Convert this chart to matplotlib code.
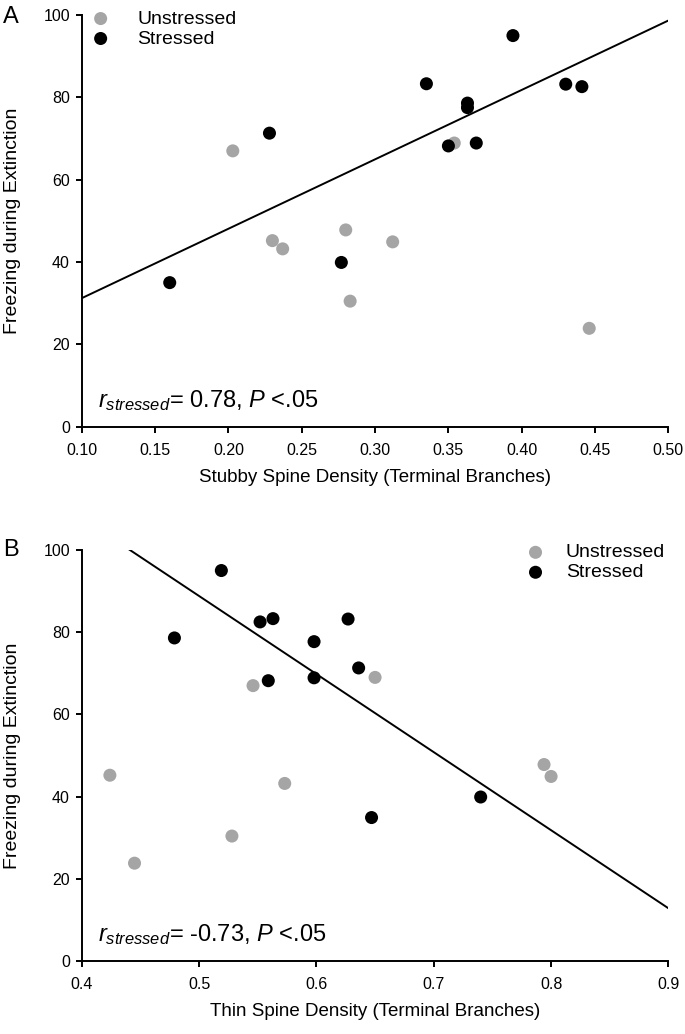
import numpy as np
import matplotlib.pyplot as plt
from matplotlib.ticker import FormatStrFormatter

plt.rcParams['font.family'] = ['Liberation Sans', 'DejaVu Sans']
plt.rcParams['mathtext.fontset'] = 'custom'
plt.rcParams['mathtext.rm'] = 'Liberation Sans'
plt.rcParams['mathtext.it'] = 'Liberation Sans:italic'

# Panel A: stubby spine density vs freezing
stubby_unstressed = [0.203, 0.230, 0.237, 0.280, 0.283, 0.312, 0.354, 0.446]
freeze_a_unstressed = [67.0, 45.2, 43.2, 47.8, 30.5, 44.9, 68.9, 23.9]
stubby_stressed = [0.160, 0.228, 0.277, 0.335, 0.350, 0.363, 0.363, 0.369, 0.394, 0.430, 0.441]
freeze_a_stressed = [35.0, 71.3, 39.9, 83.3, 68.2, 78.6, 77.5, 68.9, 95.0, 83.2, 82.6]

# Panel B: thin spine density vs freezing
thin_unstressed = [0.546, 0.650, 0.424, 0.573, 0.528, 0.445, 0.794, 0.800]
freeze_b_unstressed = [67.0, 69.0, 45.2, 43.2, 30.4, 23.8, 47.8, 44.9]
thin_stressed = [0.519, 0.479, 0.552, 0.563, 0.627, 0.598, 0.636, 0.559, 0.598, 0.740, 0.647]
freeze_b_stressed = [95.0, 78.6, 82.5, 83.3, 83.2, 77.7, 71.3, 68.2, 68.9, 39.9, 34.9]

gray = '#a5a5a5'

fig = plt.figure(figsize=(6.85, 10.34), dpi=100)
ax1 = fig.add_axes([0.1193, 0.5873, 0.8565, 0.3982])
ax2 = fig.add_axes([0.1193, 0.0706, 0.8565, 0.3975])


def draw_panel(ax, xu, yu, xs, ys, xlim, xticks, xfmt, xlabel, note, leg_loc, leg_anchor, leg_pad):
    su = ax.scatter(xu, yu, s=88, color=gray, edgecolors='none', label='Unstressed', zorder=3)
    ss = ax.scatter(xs, ys, s=88, color='black', edgecolors='none', label='Stressed', zorder=3)
    # regression line for the stressed group
    slope, icpt = np.polyfit(xs, ys, 1)
    xx = np.array(xlim)
    ax.plot(xx, slope * xx + icpt, color='black', lw=1.4, zorder=2)

    ax.set_xlim(xlim)
    ax.set_ylim(0, 100)
    ax.set_xticks(xticks)
    ax.set_yticks(np.arange(0, 101, 20))
    ax.xaxis.set_major_formatter(FormatStrFormatter(xfmt))
    for side in ['top', 'right']:
        ax.spines[side].set_visible(False)
    for side in ['left', 'bottom']:
        ax.spines[side].set_linewidth(1.4)
    ax.tick_params(direction='out', length=4.5, width=1.4, labelsize=11.5)
    ax.tick_params(axis='x', pad=7)
    ax.tick_params(axis='y', pad=4)

    ax.set_xlabel(xlabel, fontsize=13.5)
    ax.set_ylabel('Freezing during Extinction', fontsize=14)
    ax.xaxis.set_label_coords(0.5, -0.102)
    ax.yaxis.set_label_coords(-0.103, 0.5)

    ax.text(0.028, 0.048, note, transform=ax.transAxes, fontsize=17, va='baseline')

    ax.legend(handles=[su, ss], loc=leg_loc, bbox_to_anchor=leg_anchor, frameon=False,
              fontsize=14, scatterpoints=1, handlelength=0.8, handletextpad=leg_pad,
              borderpad=0, borderaxespad=0, labelspacing=0.12)


draw_panel(ax1, stubby_unstressed, freeze_a_unstressed, stubby_stressed, freeze_a_stressed,
           (0.10, 0.50), np.arange(0.10, 0.501, 0.05), '%.2f',
           'Stubby Spine Density (Terminal Branches)',
           r'$r_{stressed}$= 0.78, $P$ <.05', 'upper left', (0.019, 1.012), 1.5)

draw_panel(ax2, thin_unstressed, freeze_b_unstressed, thin_stressed, freeze_b_stressed,
           (0.4, 0.9), np.arange(0.4, 0.901, 0.1), '%.1f',
           'Thin Spine Density (Terminal Branches)',
           r'$r_{stressed}$= -0.73, $P$ <.05', 'upper right', (0.994, 1.015), 1.15)

fig.text(0.004, 1 - 23 / 1034, 'A', fontsize=17, va='baseline')
fig.text(0.004, 1 - 556 / 1034, 'B', fontsize=17, va='baseline')

fig.savefig('out.png', dpi=100)
